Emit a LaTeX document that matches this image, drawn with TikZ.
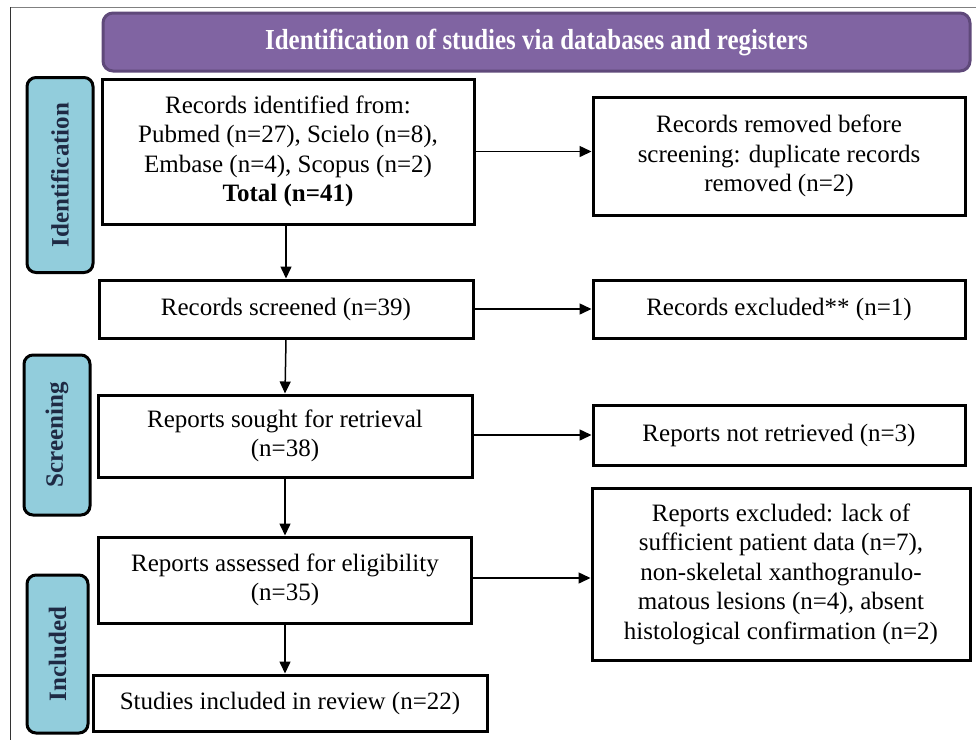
\documentclass[tikz,border=0pt]{standalone}
\usepackage{fontspec}
\setmainfont{Liberation Serif}
\newfontfamily\hdrfont[FakeStretch=0.86]{Liberation Serif}
\usetikzlibrary{arrows.meta}
\definecolor{hdrfill}{HTML}{8064A2}
\definecolor{hdrdraw}{HTML}{5F497A}
\definecolor{lblfill}{HTML}{92CDDC}
\definecolor{lbltext}{HTML}{1F2A44}
\tikzset{
  box/.style={draw=black, line width=3pt, fill=white, align=center, inner sep=0pt,
    font=\fontsize{25}{29.5}\selectfont},
  lbl/.style={draw=black, line width=3pt, fill=lblfill, rounded corners=9pt,
    inner sep=0pt},
  lbltxt/.style={rotate=90, text=lbltext, font=\fontsize{25}{28}\selectfont\bfseries},
  arr/.style={-{Triangle[length=12pt,width=11pt]}, line width=1.5pt},
}
\begin{document}
\begin{tikzpicture}[x=1pt,y=-1pt]
\useasboundingbox (0,0) rectangle (976,740);
\draw[gray, line width=1pt] (10,7) -- (976,7);
\draw[black!80, line width=1pt] (10,7) -- (10,740);
\node[draw=hdrdraw, line width=3pt, fill=hdrfill, rounded corners=10pt,
  minimum width=867pt, minimum height=58pt, inner sep=0pt, text=white,
  font=\fontsize{29}{30}\hdrfont\bfseries] (hdr) at (536.5,42)
  {Identification of studies via databases and registers};
\node[lbl, minimum width=66pt, minimum height=195pt] (lid) at (60,175) {};
\node[lbltxt] (lidt) at (lid.center) {Identification};
\node[lbl, minimum width=66pt, minimum height=160pt] (lsc) at (57,435) {};
\node[lbltxt] (lsct) at (lsc.center) {Screening};
\node[lbl, minimum width=61pt, minimum height=158pt] (lin) at (57.5,654) {};
\node[lbltxt] (lint) at (lin.center) {Included};
\node[box, minimum width=372pt, minimum height=145pt] (b1) at (288,151.5)
  {Records identified from:\\Pubmed (n=27), Scielo (n=8),\\Embase (n=4), Scopus (n=2)\\\textbf{Total (n=41)}};
\node[box, minimum width=372pt, minimum height=118pt] (r1) at (779,156)
  {Records removed before\\screening: duplicate records\\removed (n=2)};
\node[box, minimum width=374pt, minimum height=58pt] (b2) at (286,309)
  {Records screened (n=39)};
\node[box, minimum width=372pt, minimum height=58pt] (r2) at (779,309)
  {Records excluded** (n=1)};
\node[box, minimum width=374pt, minimum height=82pt] (b3) at (285,436)
  {Reports sought for retrieval\\(n=38)};
\node[box, minimum width=372pt, minimum height=60pt] (r3) at (779,435)
  {Reports not retrieved (n=3)};
\node[box, minimum width=373pt, minimum height=86pt] (b4) at (285,580)
  {Reports assessed for eligibility\\(n=35)};
\node[box, minimum width=378pt, minimum height=172pt] (r4) at (781,574)
  {Reports excluded: lack of\\sufficient patient data (n=7),\\non-skeletal xanthogranulo-\\matous lesions (n=4), absent\\histological confirmation (n=2)};
\node[box, minimum width=394pt, minimum height=56pt] (b5) at (290,703)
  {Studies included in review (n=22)};
\draw[arr] (b2.north |- b1.south) -- (b2.north);
\draw[arr] (b2.south) -- (b3.north);
\draw[arr] (b3.south) -- (b4.north);
\draw[arr] (b4.south) -- (b4.south |- b5.north);
\draw[arr] (b1.east) -- (r1.west |- b1.east);
\draw[arr] (b2.east) -- (r2.west);
\draw[arr] (b3.east |- r3.west) -- (r3.west);
\draw[arr] (b4.east |- 0,578) -- (r4.west |- 0,578);
\end{tikzpicture}
\end{document}
